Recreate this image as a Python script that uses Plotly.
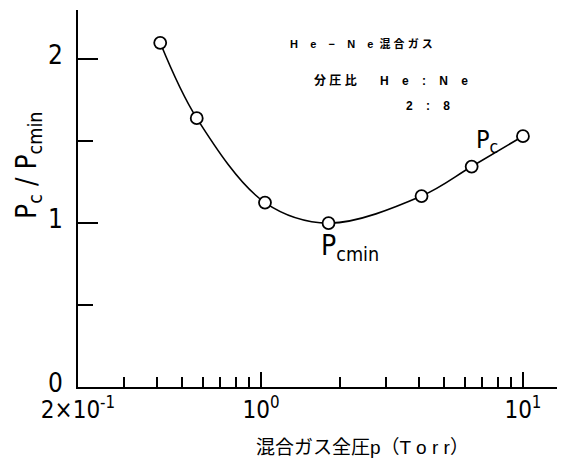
import plotly.graph_objects as go

# total pressure of the He-Ne mixture (Torr) and normalised critical pressure
pressure = [0.412, 0.568, 1.035, 1.81, 4.1, 6.37, 10.0]
ratio = [2.10, 1.64, 1.125, 1.00, 1.165, 1.345, 1.53]

x_major = [0.2, 1, 10]
x_major_text = ["2×10<sup>-1</sup>", "10<sup>0</sup>", "10<sup>1</sup>"]
x_minor = [0.3, 0.4, 0.5, 0.6, 0.7, 0.8, 0.9, 2, 3, 4, 5, 6, 7, 8, 9]
y_major = [0, 1, 2]
y_minor = [0.5, 1.5]

NARROW = "DejaVu Sans Condensed, Liberation Sans Narrow, Roboto, sans-serif"
JP = "Liberation Sans, Noto Sans CJK JP, sans-serif"
SP = "\u00a0"


def spaced(s, gap=2):
    """Spread characters apart with non-breaking spaces."""
    return (SP * gap).join(s)


fig = go.Figure()
fig.add_trace(go.Scatter(
    x=pressure, y=ratio, mode="lines+markers",
    line=dict(color="black", width=1.6, shape="spline", smoothing=1.0),
    marker=dict(symbol="circle", size=12, color="white",
                line=dict(color="black", width=1.8)),
    hoverinfo="skip", showlegend=False,
))

fig.update_layout(
    width=565, height=475,
    margin=dict(l=78, r=8, t=10, b=88),
    paper_bgcolor="white", plot_bgcolor="white",
    font=dict(family=NARROW, color="black"),
    xaxis=dict(
        type="log", range=[-0.699, 1.13],
        showline=True, linecolor="black", linewidth=2,
        showgrid=False, zeroline=False,
        tickmode="array", tickvals=x_major, ticktext=x_major_text,
        ticks="inside", ticklen=15, tickwidth=1.6, tickcolor="black",
        tickfont=dict(family=NARROW, size=24),
        minor=dict(tickmode="array", tickvals=x_minor, ticks="inside",
                   ticklen=10, tickwidth=1.6, tickcolor="black"),
    ),
    yaxis=dict(
        range=[0, 2.3],
        showline=True, linecolor="black", linewidth=2,
        showgrid=False, zeroline=False,
        tickmode="array", tickvals=y_major,
        ticks="inside", ticklen=20, tickwidth=1.6, tickcolor="black",
        tickfont=dict(family=NARROW, size=26),
        ticklabelstandoff=8, ticklabelshift=-4,
        minor=dict(tickmode="array", tickvals=y_minor, ticks="inside",
                   ticklen=15, tickwidth=1.6, tickcolor="black"),
    ),
)

line1 = spaced("He−Ne", 4) + SP * 2 + spaced("混合ガス", 1)
line2 = spaced("分圧比", 1) + SP * 7 + spaced("He:Ne", 4)
line3 = spaced("2:8", 4)

annotations = [
    # axis titles
    dict(text="P<sub>c</sub> / P<sub>cmin</sub>", xref="paper", yref="paper",
         x=-0.145, y=0.589, textangle=-90, showarrow=False,
         font=dict(family=NARROW, size=28)),
    dict(text="混合ガス全圧p（T o r r）", xref="paper", yref="paper",
         x=0.593, y=-0.194, showarrow=False,
         font=dict(family=JP, size=19)),
    # curve labels
    dict(text="P<sub>cmin</sub>", xref="x", yref="y", x=0.34, y=0.85,
         showarrow=False, font=dict(family=NARROW, size=28)),
    dict(text="P<sub>c</sub>", xref="x", yref="y", x=0.863, y=1.5,
         showarrow=False, font=dict(family=NARROW, size=25)),
    # gas description
    dict(text="<b>" + line1 + "</b>", xref="paper", yref="paper",
         x=0.591, y=0.934, showarrow=False, font=dict(family=JP, size=11)),
    dict(text="<b>" + line2 + "</b>", xref="paper", yref="paper",
         x=0.653, y=0.836, showarrow=False, font=dict(family=JP, size=12)),
    dict(text="<b>" + line3 + "</b>", xref="paper", yref="paper",
         x=0.78, y=0.769, showarrow=False, font=dict(family=JP, size=12)),
]
fig.update_layout(annotations=annotations)

fig.write_html("out.html")
